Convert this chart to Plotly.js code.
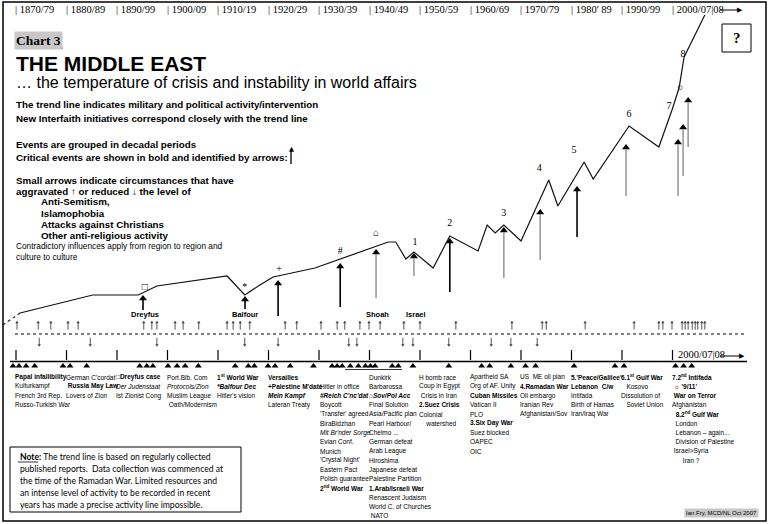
<!DOCTYPE html>
<html><head><meta charset="utf-8">
<script src="https://cdn.plot.ly/plotly-3.0.1.min.js"></script>
<style>html,body{margin:0;padding:0;background:#fff}#chart{width:769px;height:524px}</style>
</head><body><div id="chart"></div>
<script>
// ---------------- DATA ----------------
const decades = [1870,1880,1890,1900,1910,1920,1930,1940,1950,1960,1970,1980,1990,2000];
const decadeLabels = ['1870/79','1880/89','1890/99','1900/09','1910/19','1920/29','1930/39','1940/49','1950/59','1960/69','1970/79',"1980' 89",'1990/99','2000/07|08'];

// trend line (activity level index)
const leadYears  = [1867.4, 1870.8];
const leadLevels = [199, 211];
const trendYears  = [1870.8,1885.2,1894.2,1897.9,1911.8,1915.3,1918.3,1920.9,1929.2,1941.1,1943.7,1945.2,1947.2,1948.8,1952.6,1955.9,1961.5,1963.3,1964.9,1966.6,1970.0,1975.5,1977.3,1982.5,1984.3,1991.4,1997.3,1999.9,2001.3,2002.3,2006.4];
const trendLevels = [211,229,229,238,248,229,239,247,256,277,282,282,265,272,256,288,273,299,291,299,283,344,318,362,345,398,377,414,436,467,509];

// markers written over the trend line
const markSymbols = ['□','*','+','#','⌂','1','2','3','4','5','6','7','☼','8'];
const markYears   = [1895.5,1915.3,1922.1,1934.2,1941.3,1949.0,1955.9,1966.6,1973.6,1980.5,1991.4,1999.3,2001.5,2002.1];
const markLevels  = [237,237,255,273,291,282,301,311,356,374,410,418,437,470];

// critical-event arrows
const critYears = [1895.15,1915.35,1921.9,1934.2,1941.3,1948.8,1955.9,1966.6,1973.8,1981.1,1990.8,2001.1,2002.1,2003.1];
const critTip   = [229,228,244,261,275,271,286,297,315,338,380,385,400,427];
const critBase  = [214,215,208,217,226,248,232,246,264,287,328,328,348,377];
const critDark  = [true,true,true,true,false,false,true,false,false,true,false,false,false,false];
const critNames = ['Dreyfus','Balfour','Shoah','Israel'];
const critNameYears = [1895.5,1915.4,1941.5,1949.2];

// small arrows: aggravated (up) / reduced (down)
const aggravatedYears = [1870.2,1874.4,1876.9,1880.3,1882.3,1895.3,1896.9,1897.9,1901.5,1903.1,1906.2,1911.8,1913.0,1914.4,1916.3,1923.3,1925.6,1930.4,1933.6,1935.1,1938.1,1939.9,1942.1,1946.8,1950.0,1957.1,1968.2,1974.2,1975.0,1982.7,1992.4,1997.3,1998.1,1999.9,2001.9,2002.5,2003.1,2003.9,2004.5,2005.0,2005.8,2006.4];
const reducedYears = [1874.6,1884.7,1897.9,1915.3,1921.9,1935.9,1937.5,1946.6,1948.6,1955.7,1964.1,1968.0,1973.2];

// event markers (triangles)
const eventYears = [1869.4,1870.6,1872.0,1873.7,1879.3,1880.7,1884.0,1894.5,1895.9,1897.1,1900.1,1901.9,1903.5,1906.1,1913.4,1916.0,1917.2,1919.9,1921.3,1924.3,1928.9,1932.6,1933.6,1934.6,1936.2,1937.8,1939.2,1940.2,1941.1,1944.5,1945.7,1948.6,1955.7,1962.2,1963.8,1968.0,1970.9,1972.9,1980.5,1988.6,1990.4,2000.6,2002.2,2003.8];

// event lists per decade
const ev1870 = ['Papal infallibility','Kulturkampf','French 3rd Rep.','Russo-Turkish War'];
const ev1880 = ["German C'cordat",' Russia May Law','Lovers of Zion'];
const ev1890 = ['□Dreyfus case','Der Judenstaat','Ist Zionist Cong'];
const ev1900 = ['Port.Bib. Com','Protocols/Zion','Muslim League',' Oath/Modernism'];
const ev1910 = ['1st World War','*Balfour Dec',"Hitler's vision"];
const ev1920 = ['Versailles',"+Palestine M'date",'Mein Kampf','Lateran Treaty'];
const ev1930 = ['','Hitler in office',"#Reich C'nc'dat",'Boycott',"'Transfer' agreed",'BiraBidzhan',"Mit Br'nder Sorge",'Evian Conf.','Munich',"'Crystal Night'",'Eastern Pact','Polish guarantee','2nd World War'];
const ev1940 = ['Dunkirk','Barbarossa','⌂Sov/Pol Acc','Final Solution','Asia/Pacific plan','Pearl Harbour/','Chelmo ...','German defeat','Arab League','Hiroshima','Japanese defeat','Palestine Partition','1.Arab/Israeli War','Renascent Judaism','World C. of Churches',' NATO'];
const ev1950 = ['H bomb race','Coup in Egypt',' Crisis in Iran','2.Suez Crisis','Colonial','    watershed'];
const ev1960 = ['Apartheid SA','Org of AF. Unity','Cuban Missiles','Vatican II','PLO','3.Six Day War','Suez blocked','OAPEC','OIC'];
const ev1970 = ['US  ME oil plan','4.Ramadan War','Oil embargo','Iranian Rev','Afghanistan/Sov'];
const ev1980 = ["5.'Peace/Galilee'",'Lebanon  C/w','Intifada','Birth of Hamas','Iran/Iraq War'];
const ev1990 = ['6.1st Gulf War','   Kosovo','Dissolution of','   Soviet Union'];
const ev2000 = ['7.2nd Intifada'," ☼ '9/11'",' War on Terror','Afghanistan','  8.2nd Gulf War','  London','  Lebanon – again...','  Division of Palestine',' Israel>Syria','      Iran ?'];
const eventLists = [ev1870,ev1880,ev1890,ev1900,ev1910,ev1920,ev1930,ev1940,ev1950,ev1960,ev1970,ev1980,ev1990,ev2000];

const criticalEvents = ['Papal infallibility','Russia May Law','□Dreyfus case','1st World War','*Balfour Dec','Versailles',"+Palestine M'date",'Mein Kampf',"#Reich C'nc'dat",'2nd World War','⌂Sov/Pol Acc','1.Arab/Israeli War','2.Suez Crisis','Cuban Missiles','3.Six Day War','4.Ramadan War',"5.'Peace/Galilee'",'Lebanon  C/w','6.1st Gulf War','7.2nd Intifada',"☼ '9/11'",'War on Terror','8.2nd Gulf War'];
const titledWorks = ['Der Judenstaat','Protocols/Zion','*Balfour Dec','Mein Kampf',"#Reich C'nc'dat","Mit Br'nder Sorge",'⌂Sov/Pol Acc'];

const introLines = [
 'The trend line indicates military and political activity/intervention',
 'New Interfaith initiatives correspond closely with the trend line',
 'Events are grouped in decadal periods',
 'Critical events are shown in bold and identified by arrows:',
 'Small arrows indicate circumstances that have',
 'aggravated ↑ or reduced ↓ the level of',
 'Anti-Semitism,','Islamophobia','Attacks against Christians','Other anti-religious activity'];
const introSmall = ['Contradictory influences apply from region to region and','culture to culture'];
const noteLines = ['<b>Note:</b> The trend line is based on regularly collected',
 'published reports.  Data collection was commenced at',
 'the time of the Ramadan War. Limited resources and',
 'an intense level of activity to be recorded in recent',
 'years has made a precise activity line impossible.'];

// ---------------- DRAWING ----------------
const W = 769, H = 524;
const P = x => x / W, Q = y => 1 - y / H;
const LV = y => H - y;   // page row -> level units on y axis
const SANS = 'Liberation Sans, Arial, sans-serif';
const SERIF = 'Liberation Serif, Times New Roman, serif';
const NOTE = 'Lato, Open Sans, sans-serif';
const nb = s => s.replace(/ {2,}/g, m => '\u00a0'.repeat(m.length)).replace(/^ +/, m => '\u00a0'.repeat(m.length));
const sup = s => s.replace(/(\d)(st|nd)\b/g, '$1<sup>$2</sup>');

const ann = [], shapes = [];
function txt(x, y, text, font, opt) {
  ann.push(Object.assign({xref:'paper', yref:'paper', x:P(x), y:Q(y), text:text, showarrow:false,
    xanchor:'left', yanchor:'middle', font:font}, opt || {}));
}
function pline(x0, y0, x1, y1, w, c, dash) {
  shapes.push({type:'line', xref:'paper', yref:'paper', x0:P(x0), x1:P(x1), y0:Q(y0), y1:Q(y1), line:{color:c || '#000', width:w, dash:dash || 'solid'}});
}

// frame
shapes.push({type:'rect', xref:'paper', yref:'paper', x0:P(3), x1:P(766), y0:Q(2), y1:Q(521), line:{color:'#000', width:1.5}});

// top decade labels
decades.forEach((d, i) => {
  ann.push({xref:'x', yref:'paper', x:d, y:Q(10), text:'| ' + decadeLabels[i], showarrow:false,
    xanchor:'left', yanchor:'middle', xshift:-3, font:{family:SERIF, size:10.5, color:'#000'}});
});
pline(720, 10, 740, 10, 1);
txt(745, 10, '▶', {family:'DejaVu Sans', size:7, color:'#000'}, {xanchor:'right'});

// ? box
shapes.push({type:'rect', xref:'paper', yref:'paper', x0:P(722), x1:P(751), y0:Q(24), y1:Q(52), line:{color:'#000', width:1}});
txt(736.5, 38, '<b>?</b>', {family:SERIF, size:15, color:'#000'}, {xanchor:'center'});

// Chart 3
txt(14, 40, '<b>Chart 3</b>', {family:SERIF, size:13.5, color:'#000'}, {bgcolor:'#c8c8c8', borderpad:1});
pline(15, 48, 63, 48, 1);

// titles
txt(14, 63, '<b>THE MIDDLE EAST</b>', {family:SANS, size:21, color:'#000'});
txt(14, 83, '… the temperature of crisis and instability in world affairs', {family:SANS, size:16, color:'#000'});

// intro text
const introY = [105,118,144,157,180,191,202,213,224,235];
introLines.forEach((t, i) => {
  txt(i >= 6 ? 39 : 14, introY[i], '<b>' + t + '</b>', {family:SANS, size:9.8, color:'#000'});
});
introSmall.forEach((t, i) => txt(14, 246 + i * 10.5, t, {family:SANS, size:8.3, color:'#000'}));
pline(291, 164, 291, 150, 1.3);
txt(291, 149, '▲', {family:'DejaVu Sans', size:6.5, color:'#000'}, {xanchor:'center'});

// note box
shapes.push({type:'rect', xref:'paper', yref:'paper', x0:P(10), x1:P(241), y0:Q(447), y1:Q(512), line:{color:'#000', width:1}});
noteLines.forEach((t, i) => txt(18, 457 + i * 12, t, {family:NOTE, size:8.6, color:'#000'}));
pline(18, 462, 38, 462, 0.8);

// signature
txt(684, 513, 'Ian Fry, MCD/NL Oct 2007', {family:SANS, size:6, color:'#000'}, {bgcolor:'#c8c8c8', borderpad:1});

// small arrows row separator
pline(15, 334, 745, 334, 1, '#000', 'dot');

// lower timeline
decades.forEach(d => shapes.push({type:'line', xref:'x', yref:'y', x0:d, x1:d, y0:LV(350), y1:LV(360), line:{color:'#000', width:1.2}}));
pline(10, 361.5, 747, 361.5, 1.3);
pline(345, 369.5, 402, 369.5, 0.8);
txt(676, 354, '2000/07|08', {family:SERIF, size:10.5, color:'#000'});
pline(720, 356, 742, 356, 1);
txt(747, 356, '▶', {family:'DejaVu Sans', size:7, color:'#000'}, {xanchor:'right'});

// event lists
const rowY = r => 377 + r * 9.25;
eventLists.forEach((list, c) => {
  list.forEach((t, r) => {
    if (!t) return;
    const key = t.trim();
    let s = sup(nb(key));
    if (titledWorks.includes(key)) s = '<i>' + s + '</i>';
    if (criticalEvents.includes(key)) s = '<b>' + s + '</b>';
    const lead = t.match(/^ */)[0];
    ann.push({xref:'x', yref:'paper', x:decades[c], y:Q(rowY(r)), text:nb(lead) + s, showarrow:false,
      xanchor:'left', yanchor:'middle', xshift:(c === 6 ? -1 : -3), font:{family:SANS, size:6.5, color:'#000'}});
  });
});

// critical arrow shafts
critYears.forEach((x, i) => {
  shapes.push({type:'line', xref:'x', yref:'y', x0:x, x1:x, y0:critBase[i], y1:critTip[i] - 5,
    line:{color:critDark[i] ? '#000' : '#9a9a9a', width:1.6}});
});
critNames.forEach((n, i) => {
  ann.push({xref:'x', yref:'paper', x:critNameYears[i], y:Q(314), text:'<b>' + n + '</b>', showarrow:false,
    xanchor:'center', yanchor:'middle', font:{family:SANS, size:7.5, color:'#000'}});
});

const traces = [
  {x:leadYears, y:leadLevels, mode:'lines', line:{color:'#222', width:1.2, dash:'dot'}, hoverinfo:'skip'},
  {x:trendYears, y:trendLevels, mode:'lines', line:{color:'#111', width:1.2}, hoverinfo:'skip'},
  {x:markYears, y:markLevels, mode:'text', text:markSymbols, textposition:'middle center',
   textfont:{family:'Liberation Serif, DejaVu Sans, serif', size:10, color:'#000'}, hoverinfo:'skip'},
  // critical arrow heads
  {x:critYears, y:critTip.map(v => v - 3.5), mode:'markers', marker:{symbol:'triangle-up', size:7, color:'#000'}, hoverinfo:'skip'},
  // small aggravating arrows
  {x:aggravatedYears, y:aggravatedYears.map(() => LV(325.5)), mode:'markers',
   marker:{symbol:'line-ns', size:6, line:{color:'#444', width:0.9}}, hoverinfo:'skip'},
  {x:aggravatedYears, y:aggravatedYears.map(() => LV(322.5)), mode:'markers',
   marker:{symbol:'triangle-up', size:3, color:'#444'}, hoverinfo:'skip'},
  // small reducing arrows
  {x:reducedYears, y:reducedYears.map(() => LV(342)), mode:'markers',
   marker:{symbol:'line-ns', size:6, line:{color:'#444', width:0.9}}, hoverinfo:'skip'},
  {x:reducedYears, y:reducedYears.map(() => LV(345)), mode:'markers',
   marker:{symbol:'triangle-down', size:3, color:'#444'}, hoverinfo:'skip'},
  {x:eventYears, y:eventYears.map(() => LV(366)), mode:'markers', marker:{symbol:'triangle-up', size:6, color:'#000'}, hoverinfo:'skip'}
];

const layout = {
  width:W, height:H, margin:{l:0, r:0, t:0, b:0}, showlegend:false,
  paper_bgcolor:'#fff', plot_bgcolor:'#fff',
  xaxis:{range:[1870 - 16/5.05, 1870 + (W - 16)/5.05], visible:false, fixedrange:true},
  yaxis:{range:[0, H], visible:false, fixedrange:true},
  annotations:ann, shapes:shapes
};
Plotly.newPlot('chart', traces, layout, {staticPlot:true, displayModeBar:false});
</script></body></html>
